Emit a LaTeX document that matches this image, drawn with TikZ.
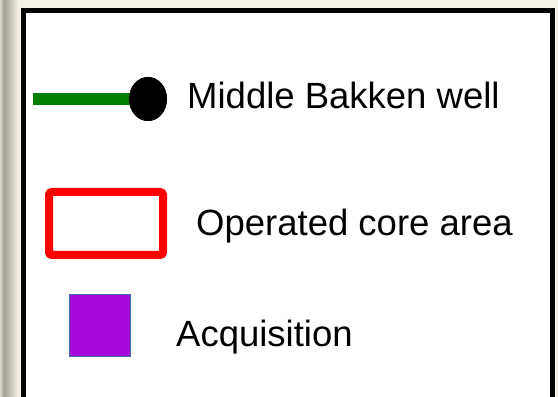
\documentclass[tikz,border=0pt]{standalone}
\usepackage{fontspec}
\setmainfont{Liberation Sans}
\usepackage{tikz}
\usetikzlibrary{positioning}
\usetikzlibrary{shapes.geometric}
\usetikzlibrary{shadows}
\definecolor{paper}{HTML}{F5F1E6}
\definecolor{edgegray}{HTML}{A29E92}
\definecolor{wellgreen}{HTML}{008000}
\definecolor{acqpurple}{HTML}{A50ADB}
\definecolor{acqedge}{HTML}{3E6EA8}
\begin{document}
\begin{tikzpicture}[x=1pt, y=1pt,
        label/.style={anchor=base west, inner sep=0pt, font=\fontsize{36.5}{40}\selectfont},
        well/.style={draw=none, fill=black, ellipse, minimum width=38pt, minimum height=44pt, inner sep=0pt},
        corebox/.style={draw=red, line width=8pt, fill=white, rounded corners=3pt, minimum width=114pt, minimum height=63pt,
            drop shadow={opacity=0.35, shadow xshift=2pt, shadow yshift=-3pt}},
        acqbox/.style={draw=acqedge, line width=0.8pt, fill=acqpurple, minimum width=61pt, minimum height=62pt, inner sep=0pt}]
            \useasboundingbox (0,0) rectangle (558,397);
            \fill[paper] (0,0) rectangle (558,397);
            \shade[left color=paper!70!edgegray, right color=edgegray] (0,0) rectangle (4,397);
            \shade[left color=edgegray, right color=paper] (4,0) rectangle (18,397);
            \draw[line width=5pt, fill=white] (23,-10) rectangle (552,386);

            \coordinate (lineStart) at (33,298);
            \node[well] (W) at (148,298) {};
            \draw[wellgreen, line width=12pt] (lineStart) -- (W.center);
            \node[well] at (W) {};
            \node[label] (Wtext) at (187,288) {Middle Bakken well};

            \node[corebox] (C) at (106,173.5) {};
            \node[label] (Ctext) at (196,161) {Operated core area};

            \node[acqbox] (Q) at (99.5,72) {};
            \node[label] (Qtext) at (176,50) {Acquisition};
        \end{tikzpicture}
\end{document}
